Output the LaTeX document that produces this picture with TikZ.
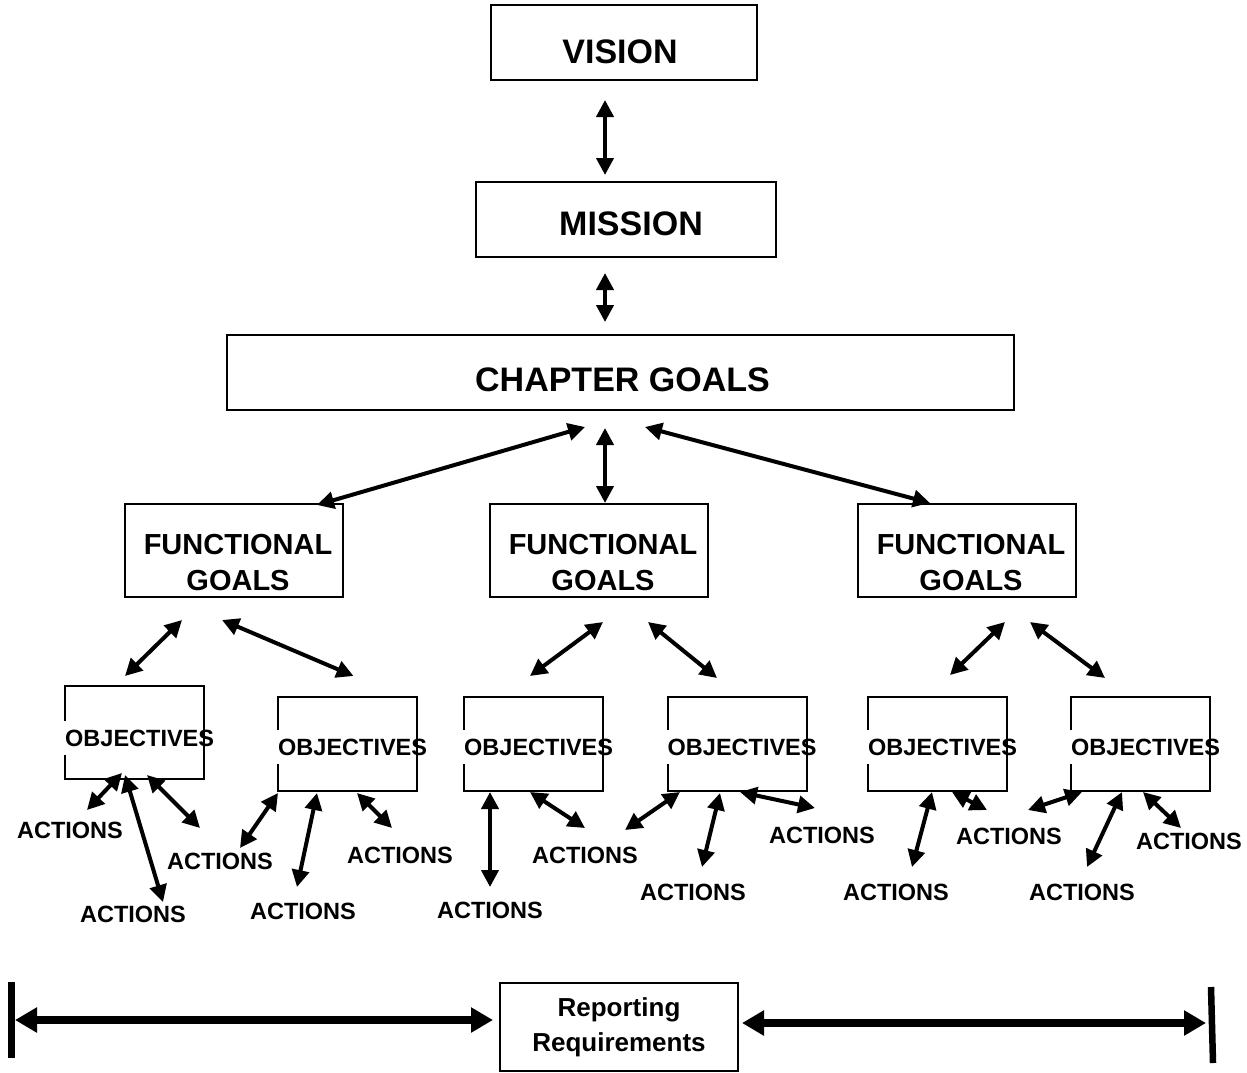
\documentclass[tikz,border=0pt]{standalone}
\usepackage{fontspec}
\setmainfont{Liberation Sans}
\usepackage{tikz}
\usetikzlibrary{%
	calc,%
	arrows.meta,%
	positioning%
}

\begin{document}
\begin{tikzpicture}[x=1pt,y=-1pt,
		box/.style={draw,line width=2pt,inner sep=0pt,outer sep=0pt},
		bigtext/.style={font=\fontsize{34}{40}\selectfont\bfseries,inner sep=0pt},
		fgtext/.style={font=\fontsize{29}{36}\selectfont\bfseries,align=center,inner sep=0pt},
		objtext/.style={font=\fontsize{23.5}{28}\selectfont\bfseries,fill=white,inner xsep=2pt,inner ysep=0pt,text height=25.5pt,text depth=8.5pt,anchor=west},
		act/.style={font=\fontsize{23.5}{28}\selectfont\bfseries,inner sep=0pt},
		biarrow/.style={line width=4pt,{Triangle[length=17pt,width=17pt]}-{Triangle[length=17pt,width=17pt]}},
		bigarrow/.style={line width=7.5pt,{Triangle[length=22pt,width=24pt]}-{Triangle[length=22pt,width=24pt]}}
	]
	\useasboundingbox (0,0) rectangle (1247,1072);
	
	% Top boxes
	\node[box,minimum width=266pt,minimum height=75pt] (vision) at (624,42.5) {};
	\node[bigtext] (visiontxt) at ($(vision)+(-4,9)$) {VISION};
	\node[box,minimum width=300pt,minimum height=75pt] (mission) at (626,219.5) {};
	\node[bigtext] (missiontxt) at ($(mission)+(5,4)$) {MISSION};
	\node[box,minimum width=787pt,minimum height=75pt] (chapter) at (620.5,372.5) {};
	\node[bigtext] (chaptertxt) at ($(chapter)+(2,7.5)$) {CHAPTER GOALS};
	
	% Functional goals
	\node[box,minimum width=218pt,minimum height=93pt] (fg1) at (234,550.5) {};
	\node[fgtext] (fgtxt1) at ($(fg1)+(4,12.5)$) {FUNCTIONAL\\GOALS};
	\node[box,minimum width=218pt,minimum height=93pt] (fg2) at (599,550.5) {};
	\node[fgtext] (fgtxt2) at ($(fg2)+(4,12.5)$) {FUNCTIONAL\\GOALS};
	\node[box,minimum width=218pt,minimum height=93pt] (fg3) at (967,550.5) {};
	\node[fgtext] (fgtxt3) at ($(fg3)+(4,12.5)$) {FUNCTIONAL\\GOALS};
	
	% Objectives
	\node[box,minimum width=139pt,minimum height=93pt] (obj1) at (134.5,732.5) {};
	\node[box,minimum width=139pt,minimum height=94pt] (obj2) at (347.5,744) {};
	\node[box,minimum width=139pt,minimum height=94pt] (obj3) at (533.5,744) {};
	\node[box,minimum width=139pt,minimum height=94pt] (obj4) at (737,744) {};
	\node[box,minimum width=139pt,minimum height=94pt] (obj5) at (937.5,744) {};
	\node[box,minimum width=139pt,minimum height=94pt] (obj6) at (1140.5,744) {};
	\node[objtext] (objtxt1) at ($(obj1.west)+(-2,5)$) {OBJECTIVES};
	\node[objtext] (objtxt2) at ($(obj2.west)+(-2,3)$) {OBJECTIVES};
	\node[objtext] (objtxt3) at ($(obj3.west)+(-2,3)$) {OBJECTIVES};
	\node[objtext] (objtxt4) at ($(obj4.west)+(-2,3)$) {OBJECTIVES};
	\node[objtext] (objtxt5) at ($(obj5.west)+(-2,3)$) {OBJECTIVES};
	\node[objtext] (objtxt6) at ($(obj6.west)+(-2,3)$) {OBJECTIVES};
	% right edges show through the text
	\draw[line width=2pt] (obj1.north east) -- (obj1.south east);
	\draw[line width=2pt] (obj2.north east) -- (obj2.south east);
	\draw[line width=2pt] (obj3.north east) -- (obj3.south east);
	\draw[line width=2pt] (obj4.north east) -- (obj4.south east);
	\draw[line width=2pt] (obj5.north east) -- (obj5.south east);
	\draw[line width=2pt] (obj6.north east) -- (obj6.south east);
	
	% Actions
	\node[act] (act1) at (70,830) {ACTIONS};
	\node[act] (act2) at (220,861) {ACTIONS};
	\node[act] (act3) at (133,914) {ACTIONS};
	\node[act] (act4) at (303,911) {ACTIONS};
	\node[act] (act5) at (400,855) {ACTIONS};
	\node[act] (act6) at (490,910) {ACTIONS};
	\node[act] (act7) at (585,855) {ACTIONS};
	\node[act] (act8) at (693,892) {ACTIONS};
	\node[act] (act9) at (822,835) {ACTIONS};
	\node[act] (act10) at (1009,836) {ACTIONS};
	\node[act] (act11) at (1189,841) {ACTIONS};
	\node[act] (act12) at (896,892) {ACTIONS};
	\node[act] (act13) at (1082,892) {ACTIONS};
	
	% Reporting
	\node[box,minimum width=238pt,minimum height=88pt,font=\fontsize{26}{35}\selectfont\bfseries,align=center] (report) at (619,1027) {Reporting\\Requirements};
	\coordinate (lend) at (15,1020);
	\coordinate (rend) at (1206,1023);
	
	% Top arrows
	\draw[biarrow] ($(vision.south)+(-19,20)$) -- ($(mission.north)+(-21,-7)$);
	\draw[biarrow] ($(mission.south)+(-21,16)$) -- ($(chapter.north)+(-15.5,-13)$);
	\draw[biarrow] ($(chapter.south)+(-35.5,17)$) -- ($(fg1.north)+(83,1)$);
	\draw[biarrow] ($(chapter.south)+(-15.5,18)$) -- ($(fg2.north)+(6,-1)$);
	\draw[biarrow] ($(chapter.south)+(24.5,17)$) -- ($(fg3.north)+(-37,-1)$);
	
	% Goals to objectives
	\draw[biarrow] ($(fg1.south)+(-52,23)$) -- ($(obj1.north)+(-9.5,-10)$);
	\draw[biarrow] ($(fg1.south)+(-12,23)$) -- ($(obj2.north)+(6,-21)$);
	\draw[biarrow] ($(fg2.south)+(4,25)$) -- ($(obj3.north)+(-3.5,-21)$);
	\draw[biarrow] ($(fg2.south)+(49,25)$) -- ($(obj4.north)+(-20,-19)$);
	\draw[biarrow] ($(fg3.south)+(38,25)$) -- ($(obj5.north)+(12.5,-22)$);
	\draw[biarrow] ($(fg3.south)+(63,25)$) -- ($(obj6.north)+(-35.5,-19)$);
	
	% Objectives to actions
	\draw[biarrow] ($(obj1.south)+(-12.5,-6)$) -- ($(act1)+(17,-20)$);
	\draw[biarrow] ($(obj1.south)+(-9.5,-4)$) -- ($(act3)+(30,-12)$);
	\draw[biarrow] ($(obj1.south)+(12.5,-4)$) -- ($(act2)+(-20,-33)$);
	\draw[biarrow] ($(obj2.south)+(-69.5,2)$) -- ($(act2)+(20,-13)$);
	\draw[biarrow] ($(obj2.south)+(-30.5,2)$) -- ($(act4)+(-6,-24)$);
	\draw[biarrow] ($(obj2.south)+(9.5,2)$) -- ($(act5)+(-8,-27)$);
	\draw[biarrow] ($(obj3.south)+(-43.5,1)$) -- ($(act6)+(0,-23)$);
	\draw[biarrow] ($(obj3.south)+(-3.5,1)$) -- ($(act7)+(0,-27)$);
	\draw[biarrow] ($(obj4.south)+(-57,1)$) -- ($(act7)+(40,-25)$);
	\draw[biarrow] ($(obj4.south)+(-17,2)$) -- ($(act8)+(9,-25)$);
	\draw[biarrow] ($(obj4.south)+(3,1)$) -- ($(act9)+(-7,-27)$);
	\draw[biarrow] ($(obj5.south)+(-5.5,1)$) -- ($(act12)+(16,-25)$);
	\draw[biarrow] ($(obj5.south)+(14.5,1)$) -- ($(act10)+(-22,-26)$);
	\draw[biarrow] ($(obj6.south)+(-58.5,1)$) -- ($(act10)+(19,-26)$);
	\draw[biarrow] ($(obj6.south)+(-18.5,1)$) -- ($(act13)+(5,-25)$);
	\draw[biarrow] ($(obj6.south)+(2.5,1)$) -- ($(act11)+(-8,-13)$);
	
	% Reporting bar
	\draw[line width=7pt] (11,982) -- (11,1058);
	\draw[line width=6.5pt] (1211,987) -- (1213,1063);
	\draw[bigarrow] (lend) -- ($(report.west)+(-7,-7)$);
	\draw[bigarrow] ($(report.east)+(4,-4)$) -- (rend);
\end{tikzpicture}
\end{document}
